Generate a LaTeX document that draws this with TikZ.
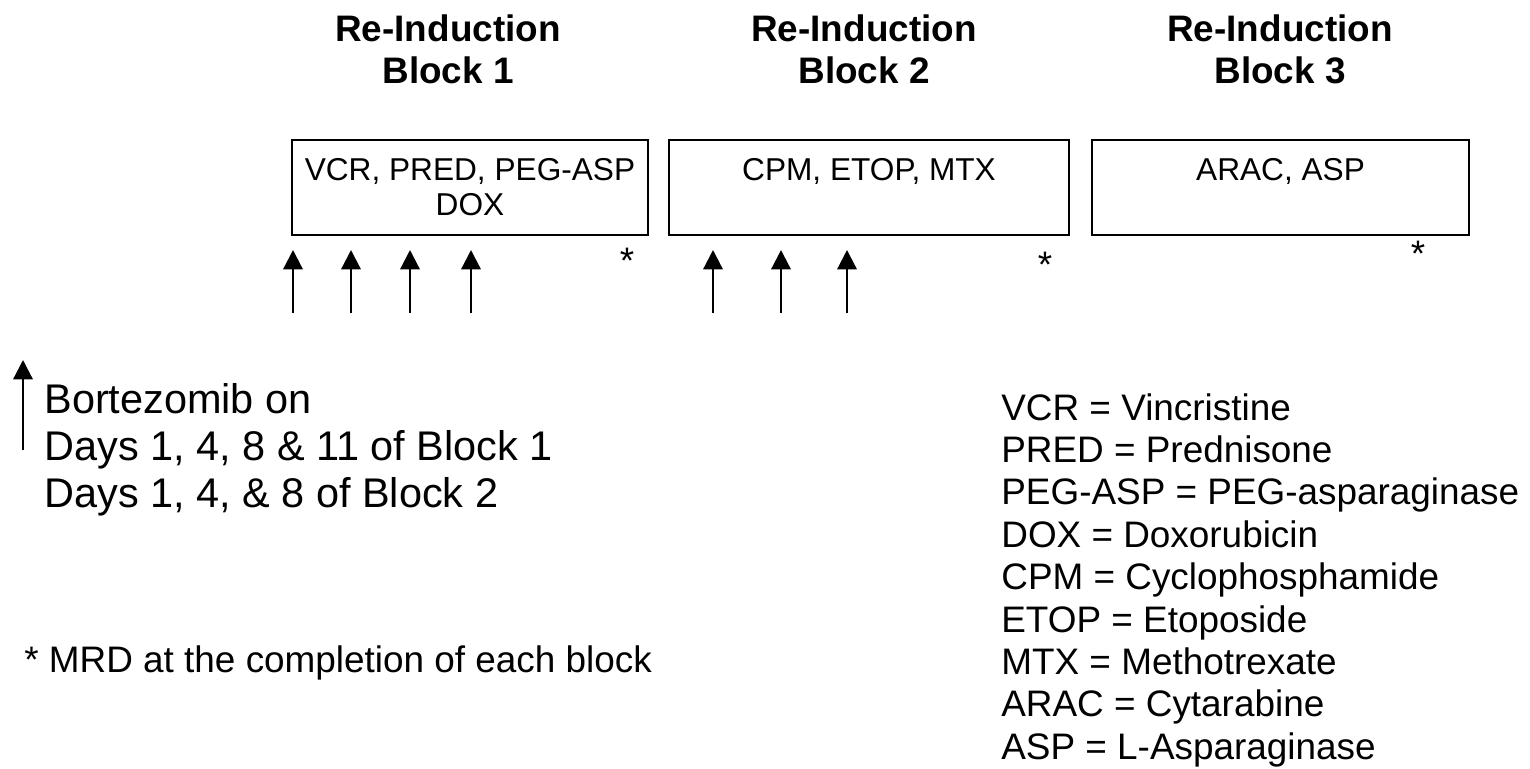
\documentclass[tikz,border=0pt]{standalone}
\usepackage{fontspec}
\setmainfont{Liberation Sans}
\usetikzlibrary{arrows.meta}

\tikzset{
        blockbox/.style={draw, line width=1.1pt, minimum height=1.9cm, inner sep=0pt},
        titletxt/.style={font=\fontsize{21}{24}\selectfont\bfseries, anchor=base, inner sep=0pt},
        drugtxt/.style={font=\fontsize{18}{20}\selectfont, anchor=base, inner sep=0pt},
        bigtxt/.style={font=\fontsize{21}{24}\selectfont, anchor=base west, inner sep=0pt},
        keytxt/.style={font=\fontsize{23.6}{27}\selectfont, anchor=base west, inner sep=0pt},
        mrdmark/.style={font=\fontsize{21}{24}\selectfont, anchor=base, inner sep=0pt},
        dosearrow/.style={line width=1.3pt, -{Triangle[width=11pt,length=11pt]}}
}

\begin{document}
\begin{tikzpicture}[x=0.02cm, y=-0.02cm]

        \useasboundingbox (0,0) rectangle (1530,768);

        \foreach \cx/\n in {448/1, 864/2, 1280/3} {
                \node[titletxt] (title\n a) at (\cx,41) {Re-Induction};
                \node[titletxt] (title\n b) at (\cx,83) {Block \n};
        }

        \node[blockbox, minimum width=7.12cm] (block1) at (470,187.5) {};
        \node[blockbox, minimum width=8cm]    (block2) at (869,187.5) {};
        \node[blockbox, minimum width=7.54cm] (block3) at (1280.5,187.5) {};

        \node[drugtxt] (drugs1a) at (470,180) {VCR, PRED, PEG-ASP};
        \node[drugtxt] (drugs1b) at (470,215) {DOX};
        \node[drugtxt] (drugs2) at (869,180) {CPM, ETOP, MTX};
        \node[drugtxt] (drugs3) at (1280.5,180) {ARAC, ASP};

        \node[mrdmark] (mrd1) at (627,273) {*};
        \node[mrdmark] (mrd2) at (1045,277) {*};
        \node[mrdmark] (mrd3) at (1418,266) {*};

        \foreach \x [count=\i] in {293,351,410,471,713,781,847} {
                \coordinate (dose\i) at (\x,313);
                \coordinate (dosetip\i) at (\x,250);
                \draw[dosearrow] (dose\i) -- (dosetip\i);
        }

        \coordinate (keyfoot) at (23,450);
        \coordinate (keytip) at (23,360);
        \draw[dosearrow] (keyfoot) -- (keytip);
        \node[keytxt] (key1) at (44,413) {Bortezomib on};
        \node[keytxt] (key2) at (44,460) {Days 1, 4, 8 \& 11 of Block 1};
        \node[keytxt] (key3) at (44,507) {Days 1, 4, \& 8 of Block 2};

        \node[bigtxt] (mrdnote) at (24,672) {* MRD at the completion of each block};

        \foreach \txt [count=\i] in {VCR = Vincristine, PRED = Prednisone,
                PEG-ASP = PEG-asparaginase, DOX = Doxorubicin, CPM = Cyclophosphamide,
                ETOP = Etoposide, MTX = Methotrexate, ARAC = Cytarabine, ASP = L-Asparaginase} {
                \node[bigtxt] (abbr\i) at (1001,{420+42.4*(\i-1)}) {\txt};
        }
    \end{tikzpicture}
\end{document}
